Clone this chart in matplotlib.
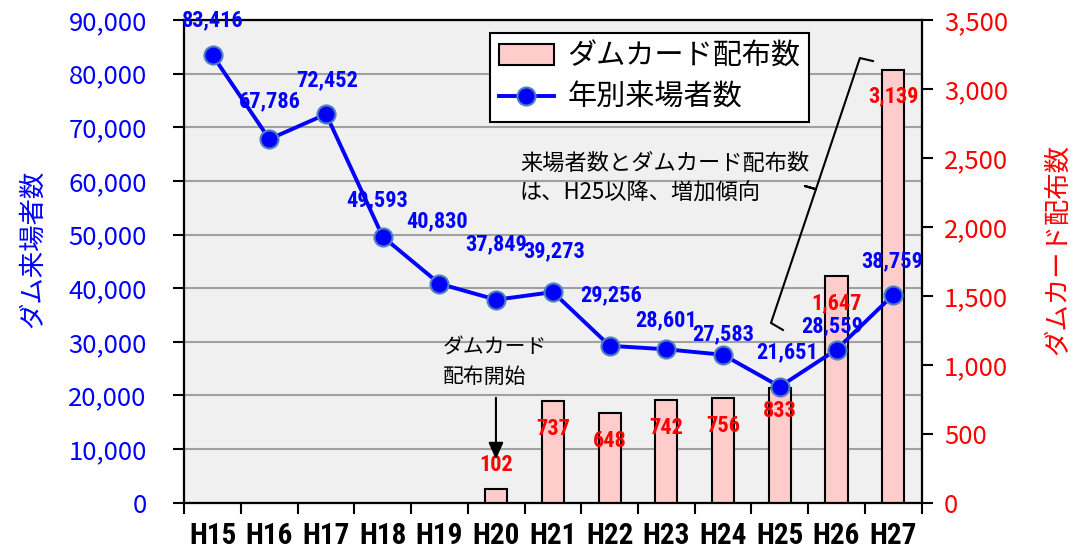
import numpy as np
import matplotlib
matplotlib.use('Agg')
import matplotlib.pyplot as plt
from matplotlib import font_manager as fm
from matplotlib.ticker import FuncFormatter, FixedLocator

plt.rcParams['font.family'] = ['Noto Sans CJK JP', 'DejaVu Sans']

# pick a narrow bold face for the numbers if there is one
installed = {f.name for f in fm.fontManager.ttflist}
narrow = 'Roboto'
for cand in ['Liberation Sans Narrow', 'Roboto Condensed', 'DejaVu Sans Condensed', 'Open Sans Condensed']:
    if cand in installed:
        narrow = cand
        break
num_font = [narrow, 'DejaVu Sans']

# data
years = ['H15', 'H16', 'H17', 'H18', 'H19', 'H20', 'H21', 'H22', 'H23', 'H24', 'H25', 'H26', 'H27']
visitors = [83416, 67786, 72452, 49593, 40830, 37849, 39273, 29256, 28601, 27583, 21651, 28559, 38759]
card_years = ['H20', 'H21', 'H22', 'H23', 'H24', 'H25', 'H26', 'H27']
cards = [102, 737, 648, 742, 756, 833, 1647, 3139]

# label offsets (points) for the visitor labels
vis_off = [(0, 25), (0, 27), (1, 24), (-4, 26), (-2, 45), (0, 40), (1, 29),
           (1, 36), (0, 21), (0, 15), (5, 25), (-3, 17), (-1, 24)]
card_off = [17, -20, -20, -20, -20, -17, -20, -19]

blue = '#0000FF'
red = '#FF0000'

x = np.arange(len(years))
xc = np.array([years.index(y) for y in card_years])

fig = plt.figure(figsize=(10.89, 5.5), dpi=100)
ax = fig.add_axes([0.1692, 0.086, 0.6771, 0.8776])
ax2 = ax.twinx()
ax3 = ax.twinx()

# background + grid on base axes
ax.set_facecolor('#F0F0F0')
ax.set_ylim(0, 90000)
ax.set_xlim(-0.5, len(years) - 0.5)
ax.yaxis.set_major_locator(FixedLocator(np.arange(0, 90001, 10000)))
ax.yaxis.set_major_formatter(FuncFormatter(lambda v, p: '{:,.0f}'.format(v)))
ax.grid(True, axis='y', color='#A0A0A0', linewidth=1.5)
ax.set_axisbelow(True)
ax.tick_params(axis='y', colors='black', labelcolor=blue, labelsize=18.5, length=8, width=1.5, pad=19)
ax.set_ylabel('ダム来場者数', color=blue, fontsize=19)
ax.yaxis.set_label_coords(-0.1875, 0.525)

ax.xaxis.set_major_locator(FixedLocator(np.arange(-0.5, len(years), 1.0)))
ax.xaxis.set_minor_locator(FixedLocator(x))
ax.set_xticklabels([], minor=False)
ax.set_xticklabels(years, minor=True, fontsize=21, fontweight='bold', family=num_font)
ax.tick_params(axis='x', which='major', length=8, width=1.5)
ax.tick_params(axis='x', which='minor', length=0, pad=14)

# bars on right axis
ax2.bar(xc, cards, width=0.39, color='#FFCCCC', edgecolor='black', linewidth=1.5,
        label='ダムカード配布数', zorder=2)
ax2.set_ylim(0, 3500)
ax2.yaxis.set_major_locator(FixedLocator(np.arange(0, 3501, 500)))
ax2.yaxis.set_major_formatter(FuncFormatter(lambda v, p: '{:,.0f}'.format(v)))
ax2.tick_params(axis='y', colors='black', labelcolor=red, labelsize=18.5, length=8, width=1.5, pad=8)
ax2.set_ylabel('ダムカード配布数', color=red, fontsize=19)
ax2.yaxis.set_label_coords(1.166, 0.525)
for xi, c, dy in zip(xc, cards, card_off):
    ax2.annotate('{:,}'.format(c), (xi, c), xytext=(0, dy), textcoords='offset points',
                 ha='center', va='center', color=red, fontsize=16, fontweight='bold',
                 family=num_font, zorder=5)

# line on top
ax3.set_ylim(0, 90000)
ax3.set_yticks([])
ax3.plot(x, visitors, color=blue, linewidth=2.8, marker='o', markersize=13,
         markerfacecolor=blue, markeredgecolor='#4F81BD', markeredgewidth=1.5,
         label='年別来場者数', zorder=4)
for xi, v, (dx, dy) in zip(x, visitors, vis_off):
    ax3.annotate('{:,}'.format(v), (xi, v), xytext=(dx, dy), textcoords='offset points',
                 ha='center', va='center', color=blue, fontsize=16, fontweight='bold',
                 family=num_font, zorder=5, annotation_clip=False)

for a in (ax, ax2, ax3):
    for s in a.spines.values():
        s.set_linewidth(1.5)
        s.set_color('black')

# legend
h1, l1 = ax2.get_legend_handles_labels()
h2, l2 = ax3.get_legend_handles_labels()
leg = ax3.legend(h1 + h2, l1 + l2, loc='upper left', bbox_to_anchor=(0.4146, 0.973),
                 borderaxespad=0, fontsize=21, fancybox=False, framealpha=1, edgecolor='black',
                 handlelength=1.9, handletextpad=0.45, borderpad=0.3, labelspacing=0.38)
leg.get_frame().set_linewidth(1.5)

# annotations
ax3.text(0.3509, 0.3205, 'ダムカード', transform=ax3.transAxes, fontsize=15, va='center', ha='left')
ax3.text(0.3509, 0.2604, '配布開始', transform=ax3.transAxes, fontsize=15, va='center', ha='left')
ax3.annotate('', xy=(0.4227, 0.0843), xytext=(0.4227, 0.2231), xycoords='axes fraction',
             arrowprops=dict(arrowstyle='-|>,head_width=0.45,head_length=1.0', color='black', lw=1.5))

ax3.text(0.4553, 0.7038, '来場者数とダムカード配布数', transform=ax3.transAxes, fontsize=16, va='center', ha='left')
ax3.text(0.4553, 0.6416, 'は、H25以降、増加傾向', transform=ax3.transAxes, fontsize=16, va='center', ha='left')

# brace
bx = [0.9340, 0.9163, 0.8567, 0.8417, 0.8567, 0.7957, 0.8119]
by = [0.9150, 0.9212, 0.6495, 0.6561, 0.6495, 0.3724, 0.3579]
ax3.plot(bx, by, color='black', linewidth=1.5, transform=ax3.transAxes, clip_on=False)

plt.savefig('out.png', dpi=100)
